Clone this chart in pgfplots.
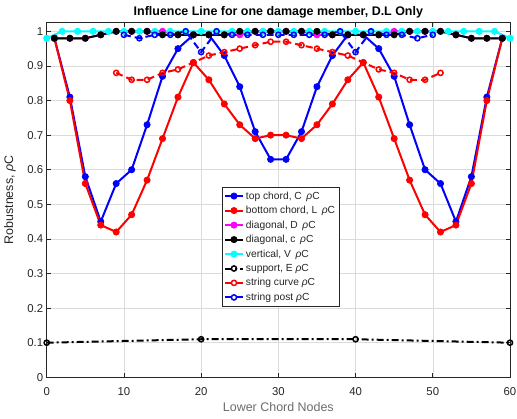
\documentclass[border=0pt]{standalone}
\usepackage{fontspec}
\setmainfont{Liberation Sans}
\usepackage{pgfplots}
\pgfplotsset{compat=1.18}
\definecolor{axgray}{rgb}{0.15,0.15,0.15}
\definecolor{gridgray}{rgb}{0.86,0.86,0.86}
\definecolor{lblgray}{rgb}{0.42,0.42,0.42}
\definecolor{mcyan}{rgb}{0,1,1}
\definecolor{mmag}{rgb}{1,0,1}
\begin{document}
\begin{tikzpicture}
\useasboundingbox (-46.7bp,-41.7bp) rectangle (470.3bp,377.3bp);
\begin{axis}[
  at={(0,0)}, anchor=south west,
  scale only axis, width=463.3bp, height=354.6bp,
  xmin=0, xmax=60, ymin=0, ymax=1.025,
  xtick={0,10,20,30,40,50,60},
  ytick={0,0.1,0.2,0.3,0.4,0.5,0.6,0.7,0.8,0.9,1},
  /pgf/number format/assume math mode=true,
  tick label style={font=\fontsize{11.4}{13}\selectfont, text=axgray},
  xticklabel style={anchor=base, yshift=-17.7bp},
  grid=major, major grid style={gridgray, line width=0.5bp},
  axis line style={axgray, line width=0.6bp},
  tick style={axgray, line width=0.6bp},
  tick align=inside, major tick length=4.5bp,
  clip=false,
  legend style={at={(0.3777,0.5358)}, anchor=north west, draw=axgray, fill=white,
    font=\fontsize{10.3}{11}\selectfont, text=axgray, inner sep=2bp, row sep=1.6bp,
    line width=0.6bp},
  legend cell align=left,
  legend image code/.code={\draw[mark repeat=2,mark phase=2,#1] plot coordinates {(0bp,0bp)(9bp,0bp)(18bp,0bp)};},
  every axis plot/.append style={line width=2bp},
]
% top chord, C
\addplot[blue, mark=*, mark size=3.1bp, mark options={solid, line width=0.8bp}] coordinates {
(1,0.98)(3,0.81)(5,0.58)(7,0.45)(9,0.56)(11,0.60)(13,0.73)(15,0.87)(17,0.95)(19,0.99)
(21,0.99)(23,0.93)(25,0.84)(27,0.71)(29,0.63)(31,0.63)(33,0.71)(35,0.84)(37,0.93)(39,0.99)
(41,0.99)(43,0.95)(45,0.87)(47,0.73)(49,0.60)(51,0.56)(53,0.45)(55,0.58)(57,0.81)(59,0.98)};
\addlegendentry{top chord, C \,\textit{ρ}C}
% bottom chord, L
\addplot[red, mark=*, mark size=3.1bp, mark options={solid, line width=0.8bp}] coordinates {
(1,0.98)(3,0.80)(5,0.56)(7,0.44)(9,0.42)(11,0.47)(13,0.57)(15,0.69)(17,0.81)(19,0.91)
(21,0.86)(23,0.79)(25,0.73)(27,0.69)(29,0.70)(31,0.70)(33,0.69)(35,0.73)(37,0.79)(39,0.86)
(41,0.91)(43,0.81)(45,0.69)(47,0.57)(49,0.47)(51,0.42)(53,0.44)(55,0.56)(57,0.80)(59,0.98)};
\addlegendentry{bottom chord, L \,\textit{ρ}C}
% diagonal, D
\addplot[mmag, mark=*, mark size=3.1bp, mark options={solid, line width=0.8bp}] coordinates {
(1,0.98)(3,0.98)(5,0.98)(7,0.99)(9,1.0)(11,1.0)(13,1.0)(15,1.0)(17,0.99)(19,0.99)
(21,0.99)(23,0.99)(25,0.99)(27,1.0)(29,1.0)(31,1.0)(33,1.0)(35,0.99)(37,0.99)(39,0.99)
(41,0.99)(43,0.99)(45,1.0)(47,1.0)(49,1.0)(51,1.0)(53,0.99)(55,0.98)(57,0.98)(59,0.98)};
\addlegendentry{diagonal, D \,\textit{ρ}C}
% diagonal, c
\addplot[black, mark=*, mark size=3.1bp, mark options={solid, line width=0.8bp}] coordinates {
(1,0.98)(3,0.98)(5,0.98)(7,0.99)(9,1.0)(11,1.0)(13,1.0)(15,0.99)(17,0.99)(19,0.99)
(21,0.99)(23,0.99)(25,1.0)(27,1.0)(29,1.0)(31,1.0)(33,1.0)(35,1.0)(37,0.99)(39,0.99)
(41,0.99)(43,0.99)(45,0.99)(47,1.0)(49,1.0)(51,1.0)(53,0.99)(55,0.98)(57,0.98)(59,0.98)};
\addlegendentry{diagonal, c \,\textit{ρ}C}
% vertical, V
\addplot[mcyan, mark=*, mark size=3.1bp, mark options={solid, line width=0.8bp}] coordinates {
(0,0.98)(2,1.0)(4,1.0)(6,1.0)(8,1.0)(10,1.0)(12,1.0)(14,1.0)(16,1.0)(18,1.0)(20,1.0)
(22,1.0)(24,1.0)(26,1.0)(28,1.0)(30,1.0)(32,1.0)(34,1.0)(36,1.0)(38,1.0)(40,1.0)
(42,1.0)(44,1.0)(46,1.0)(48,1.0)(50,1.0)(52,1.0)(54,1.0)(56,1.0)(58,1.0)(60,0.98)};
\addlegendentry{vertical, V \,\textit{ρ}C}
% support, E
\addplot[black, dash pattern=on 7bp off 3bp on 2bp off 3bp, mark=o, mark size=2.6bp, mark options={solid, line width=1.5bp}] coordinates {
(0,0.10)(20,0.11)(40,0.11)(60,0.10)};
\addlegendentry{support, E \textit{ρ}C}
% string curve
\addplot[red, dash pattern=on 7bp off 4bp, mark=o, mark size=2.6bp, mark options={solid, line width=1.5bp}] coordinates {
(9,0.88)(11,0.86)(13,0.86)(15,0.88)(17,0.89)(19,0.91)(21,0.93)(23,0.94)(25,0.95)(27,0.96)
(29,0.97)(31,0.97)(33,0.96)(35,0.95)(37,0.94)(39,0.93)(41,0.91)(43,0.89)(45,0.88)(47,0.86)
(49,0.86)(51,0.88)};
\addlegendentry{string curve \textit{ρ}C}
% string post
\addplot[blue, dash pattern=on 7bp off 4bp, mark=o, mark size=2.6bp, mark options={solid, line width=1.5bp}] coordinates {
(10,0.99)(12,0.98)(14,0.99)(16,0.99)(18,1.0)(20,0.94)(22,1.0)(24,0.99)(26,0.99)(28,0.99)
(30,0.99)(32,0.99)(34,0.99)(36,0.99)(38,1.0)(40,0.94)(42,1.0)(44,0.99)(46,0.99)(48,0.98)
(50,0.99)};
\addlegendentry{string post \textit{ρ}C}
\end{axis}
\node[anchor=base, font=\bfseries\fontsize{12.5}{14}\selectfont] at (231.65bp,361.3bp) {Influence Line for one damage member, D.L Only};
\node[anchor=base, font=\fontsize{12.5}{14}\selectfont, text=lblgray] at (231.65bp,-34bp) {Lower Chord Nodes};
\node[anchor=base, rotate=90, font=\fontsize{12.5}{14}\selectfont, text=axgray] at (-33.5bp,177.3bp) {Robustness, \textit{ρ}C};
\end{tikzpicture}
\end{document}
